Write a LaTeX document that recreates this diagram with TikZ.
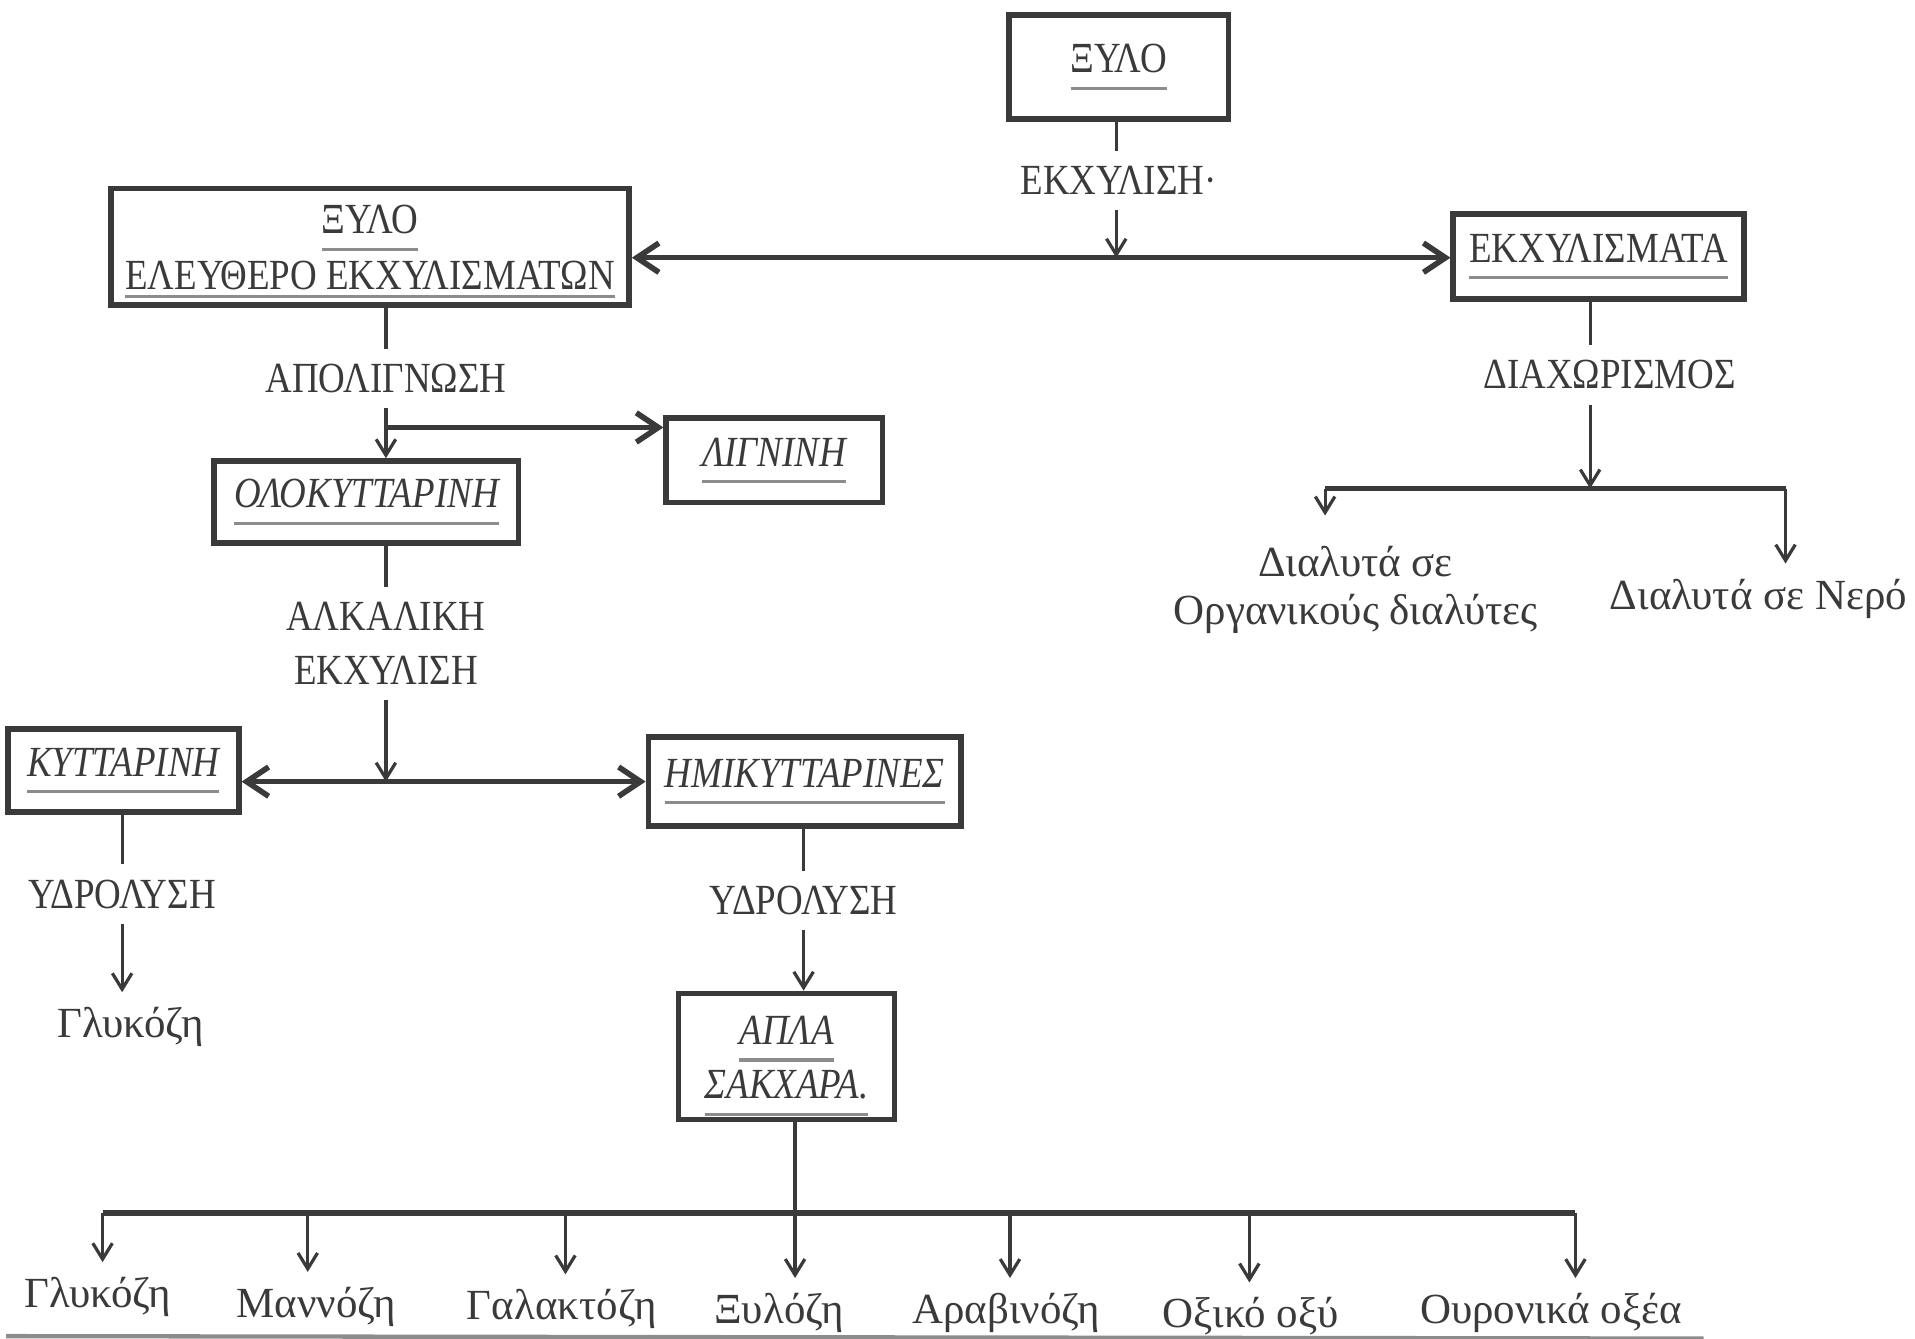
\documentclass[tikz,border=0pt]{standalone}
\usepackage{fontspec}
\setmainfont{Liberation Serif}[FakeStretch=0.86]
\newfontfamily\wideserif{Liberation Serif}
\usetikzlibrary{arrows.meta}
\definecolor{ink}{HTML}{3A3A3A}
\definecolor{rulegray}{HTML}{8C8C8C}
\newcommand{\lbl}{\fontsize{10}{11.5}\selectfont}
\newcommand{\uln}[2][3.2pt]{\setbox0=\hbox{#2}\vtop{\copy0\nointerlineskip\kern#1\hbox{\color{rulegray}\rule{\wd0}{0.8pt}}}}
\begin{document}
\begin{tikzpicture}[x=0.01cm, y=-0.01cm,
    every node/.style={text=ink, font=\lbl},
    every label/.style={text=ink, align=center},
    ital/.style={font=\lbl\itshape},
    lower/.style={font=\wideserif\fontsize{10}{12}\selectfont},
    box/.style={draw=ink, line width=1.3pt, align=center},
    link/.style={draw=ink, line width=0.75pt},
    wide/.style={draw=ink, line width=1.3pt, >={Straight Barb[length=1.8mm,width=2.4mm]}},
    arr/.style={draw=ink, line width=0.75pt, ->, >={Straight Barb[length=1.3mm,width=1.6mm]}},
    bus/.style={draw=ink, line width=1.5pt}]
    \useasboundingbox (0,0) rectangle (1568,1096);

    \node[box, minimum width=1.80cm, minimum height=0.85cm] (xylo) at (916,55) {\uln{ΞΥΛΟ}};
    \node[box, minimum width=4.24cm, minimum height=0.95cm,
        label={[font=\lbl, yshift=-0.4mm]center:\uln{ΞΥΛΟ}\\[1.5pt]\uln[1.2pt]{ΕΛΕΥΘΕΡΟ ΕΚΧΥΛΙΣΜΑΤΩΝ}}] (free) at (303,202) {};
    \node[box, minimum width=2.38cm, minimum height=0.70cm] (ekx) at (1309,210) {\uln{ΕΚΧΥΛΙΣΜΑΤΑ}};
    \node[box, ital, minimum width=2.49cm, minimum height=0.67cm] (olo) at (300,411) {\uln{ΟΛΟΚΥΤΤΑΡΙΝΗ}};
    \node[box, ital, minimum width=1.77cm, minimum height=0.69cm] (lign) at (634,377) {\uln{ΛΙΓΝΙΝΗ}};
    \node[box, ital, minimum width=1.89cm, minimum height=0.68cm] (kyt) at (101,631) {\uln{ΚΥΤΤΑΡΙΝΗ}};
    \node[box, ital, minimum width=2.56cm, minimum height=0.73cm] (hemi) at (659,640) {\uln{ΗΜΙΚΥΤΤΑΡΙΝΕΣ}};
    \node[box, minimum width=1.77cm, minimum height=1.03cm,
        label={[font=\lbl\itshape, yshift=-0.8mm]center:\uln{ΑΠΛΑ}\\[1pt]\uln{ΣΑΚΧΑΡΑ.}}] (sugar) at (644,865) {};

    \node (l1) at (916,148) {ΕΚΧΥΛΙΣΗ·};
    \node (l2) at (316,310) {ΑΠΟΛΙΓΝΩΣΗ};
    \node[align=center] (l3) at (316,527) {ΑΛΚΑΛΙΚΗ\\[1pt]ΕΚΧΥΛΙΣΗ};
    \node (l4) at (100,732) {ΥΔΡΟΛΥΣΗ};
    \node (l5) at (658,737) {ΥΔΡΟΛΥΣΗ};
    \node (l6) at (1318,307) {ΔΙΑΧΩΡΙΣΜΟΣ};
    \node[lower] (g0) at (107,841) {Γλυκόζη};
    \node[lower, align=center] (org) at (1110,483) {Διαλυτά σε\hspace{3.5em}\\[-1pt]Οργανικούς διαλύτες};
    \node[lower] (water) at (1440,490) {Διαλυτά σε Νερό};

    \foreach \name/\x/\y/\txt in {s1/80/1062/Γλυκόζη, s2/259/1070/Μαννόζη, s3/460/1072/Γαλακτόζη,
        s4/638/1075/Ξυλόζη, s5/824/1075/Αραβινόζη, s6/1024/1078/Οξικό οξύ, s7/1270/1075/Ουρονικά οξέα}
        \node[lower] (\name) at (\x,\y) {\txt};

    \coordinate (j1) at (914,211);
    \coordinate (j2) at (316,350);
    \coordinate (j3) at (316,640);
    \coordinate (j4) at (1302,400);
    \coordinate (d1) at (1085,400);
    \coordinate (d2) at (1462,400);
    \foreach \i/\x in {1/84, 2/252, 3/463, 4/651, 5/827, 6/1023, 7/1290}
        \coordinate (b\i) at (\x,993);

    \draw[link] (xylo.south -| j1) -- (l1.north -| j1);
    \draw[arr] (l1.south -| j1) -- (j1);
    \draw[wide, <->] (free.east |- j1) -- (ekx.west |- j1);

    \draw[link] (free.south -| l2) -- (l2);
    \draw[link] (l2) -- (j2);
    \draw[arr] (j2) -- (j2 |- olo.north);
    \draw[wide, ->] (j2) -- (lign.west |- j2);

    \draw[link] (olo.south -| l3) -- (l3);
    \draw[arr] (l3) -- (j3);
    \draw[wide, <->] (kyt.east |- j3) -- (hemi.west |- j3);

    \draw[link] (kyt.south -| l4) -- (l4);
    \draw[arr] (l4) -- (l4 |- g0.north);

    \draw[link] (hemi.south -| l5) -- (l5);
    \draw[arr] (l5) -- (l5 |- sugar.north);
    \draw[link] (sugar.south -| b4) -- (b4);
    \draw[bus] (b1) -- (b7);
    \foreach \i in {1,...,7}
        \draw[arr] (b\i) -- (b\i |- s\i.north);
    \draw[draw=rulegray, line width=1pt] (5,1094) -- (1395,1096);

    \draw[link] (ekx.south -| j4) -- (j4 |- l6.north);
    \draw[arr] (j4 |- l6.south) -- (j4);
    \draw[wide] (d1) -- (d2);
    \draw[arr, shorten >=1.3mm] (d1) -- (d1 |- org.north);
    \draw[arr] (d2) -- (d2 |- water.north);
\end{tikzpicture}
\end{document}
